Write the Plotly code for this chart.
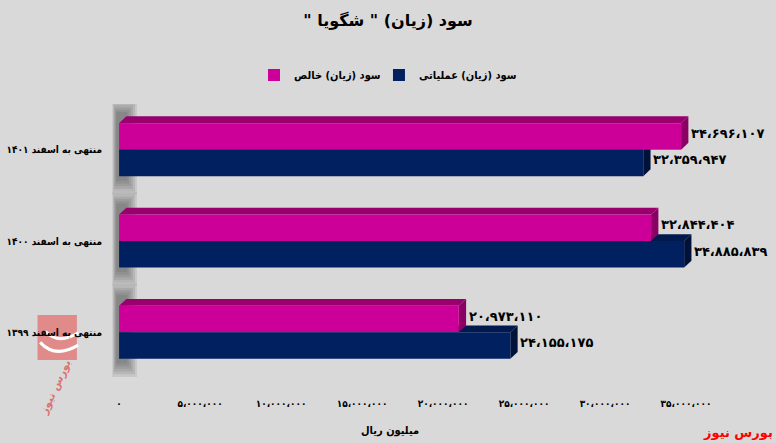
import plotly.graph_objects as go

# ---- data ----
categories = ["منتهی به اسفند ۱۴۰۱", "منتهی به اسفند ۱۴۰۰", "منتهی به اسفند ۱۳۹۹"]
net_profit = [34696107, 32844404, 20973110]        # سود (زیان) خالص
operating_profit = [32359947, 34885839, 24155175]  # سود (زیان) عملیاتی
series_names = ["سود (زیان) خالص", "سود (زیان) عملیاتی"]
tick_values = [0, 5000000, 10000000, 15000000, 20000000, 25000000, 30000000, 35000000]
title_text = 'سود (زیان) " شگویا "'
x_title = "میلیون ریال"
source_text = "بورس نیوز"

FA = str.maketrans("0123456789,", "۰۱۲۳۴۵۶۷۸۹،")
RLM = "\u200f"


def fa(n):
    return f"{n:,}".translate(FA)


PINK, PINK_TOP, PINK_SIDE = "#CC0099", "#99006E", "#8A0063"
NAVY, NAVY_TOP, NAVY_SIDE = "#002060", "#001A4D", "#00123A"
BG = "#D9D9D9"
FONT = "DejaVu Sans"
FONT_C = "DejaVu Sans Condensed, DejaVu Sans"

ypos = list(range(len(categories)))

fig = go.Figure()
fig.add_trace(go.Bar(y=ypos, x=net_profit, orientation="h", name=series_names[0],
                     marker=dict(color=PINK, line=dict(width=0)), legend="legend",
                     showlegend=True))
fig.add_trace(go.Bar(y=ypos, x=operating_profit, orientation="h", name=series_names[1],
                     marker=dict(color=NAVY, line=dict(width=0)), legend="legend2",
                     showlegend=True))

bargap = 0.42
bw = (1 - bargap) / 2
dx = 0.45e6
dy = 0.075

shapes = []
# soft wall shadows per group
for i in ypos:
    for k in range(6):
        shapes.append(dict(type="rect", xref="x", yref="y", layer="below",
                           x0=-0.42e6 + k * 0.05e6, x1=1.1e6 - k * 0.12e6,
                           y0=i - bw - dy - 0.17 + k * 0.025, y1=i + bw + 0.2 - k * 0.03,
                           fillcolor="#303030", opacity=0.1, line=dict(width=0)))

for vals, y_off, top, side in [(operating_profit, 0.0, NAVY_TOP, NAVY_SIDE),
                               (net_profit, -bw, PINK_TOP, PINK_SIDE)]:
    for i, v in enumerate(vals):
        y0 = i + y_off
        y1 = y0 + bw
        shapes.append(dict(type="path", xref="x", yref="y", layer="below",
                           path=f"M 0,{y0} L {v},{y0} L {v+dx},{y0-dy} L {dx},{y0-dy} Z",
                           fillcolor=top, line=dict(width=0)))
        shapes.append(dict(type="path", xref="x", yref="y", layer="below",
                           path=f"M {v},{y0} L {v+dx},{y0-dy} L {v+dx},{y1-dy} L {v},{y1} Z",
                           fillcolor=side, line=dict(width=0)))

# watermark logo (decorative)
shapes.append(dict(type="rect", xref="paper", yref="paper", layer="below",
                   x0=-0.112, x1=-0.052, y0=0.066, y1=0.23,
                   fillcolor="#E36F6F", opacity=0.75, line=dict(width=0)))
shapes.append(dict(type="path", xref="paper", yref="paper", layer="below",
                   path="M -0.108,0.13 Q -0.085,0.07 -0.05,0.12",
                   line=dict(color="white", width=3)))
shapes.append(dict(type="path", xref="paper", yref="paper", layer="below",
                   path="M -0.10,0.17 Q -0.08,0.12 -0.05,0.165",
                   line=dict(color="white", width=3)))

annotations = []
for vals, y_off in [(net_profit, -bw), (operating_profit, 0.0)]:
    for i, v in enumerate(vals):
        annotations.append(dict(x=v, y=i + y_off + bw / 2, xref="x", yref="y",
                                text=fa(v), showarrow=False, xanchor="left", yanchor="middle",
                                xshift=8, yshift=3,
                                font=dict(family=FONT, size=13, color="black", weight="bold")))

annotations.append(dict(text=x_title, xref="paper", yref="paper", x=0.425, y=-0.19,
                        showarrow=False, xanchor="center", yanchor="middle",
                        font=dict(family=FONT_C, size=11, color="black", weight="bold")))
annotations.append(dict(text=source_text, xref="paper", yref="paper", x=1.012, y=-0.2,
                        showarrow=False, xanchor="right", yanchor="middle",
                        font=dict(family=FONT, size=13, color="#FF0000", weight="bold")))
annotations.append(dict(text=source_text, xref="paper", yref="paper", x=-0.085, y=-0.035,
                        showarrow=False, textangle=-65, xanchor="center", yanchor="middle",
                        font=dict(family=FONT, size=11, color="rgba(220,70,70,0.7)", weight="bold")))

legend_style = dict(orientation="h", y=1.106, xanchor="left", yanchor="middle",
                    font=dict(family=FONT_C, size=11, color="black", weight="bold"),
                    bgcolor="rgba(0,0,0,0)", itemwidth=30, visible=True)

fig.update_layout(
    width=776, height=443,
    paper_bgcolor=BG, plot_bgcolor=BG,
    margin=dict(l=111, r=9, t=104, b=65),
    showlegend=True,
    barmode="group", bargap=bargap, bargroupgap=0,
    title=dict(text=RLM + title_text + RLM, x=0.5, xref="container", y=0.955, yref="container",
               xanchor="center", yanchor="middle",
               font=dict(family=FONT, size=16, color="black", weight="bold")),
    legend=dict(x=0.218, **legend_style),
    legend2=dict(x=0.4085, **legend_style),
    xaxis=dict(range=[-0.5e6, 40e6], tickvals=tick_values, automargin=False,
               ticktext=[fa(v) for v in tick_values], showgrid=False, zeroline=False,
               showline=False, ticks="", ticklabelstandoff=18,
               tickfont=dict(family=FONT_C, size=10, color="black", weight="bold")),
    yaxis=dict(tickvals=ypos, ticktext=categories, range=[len(categories) - 0.5, -0.5],
               showgrid=False, zeroline=False, showline=False, ticks="", automargin=False,
               ticklabelstandoff=8,
               tickfont=dict(family=FONT_C, size=10, color="black", weight="bold")),
    shapes=shapes, annotations=annotations,
)

fig.write_html(
    "out.html",
    config={"displayModeBar": False},
    post_script="document.documentElement.style.margin='0';document.body.style.margin='0';"
                "document.body.style.overflow='hidden';",
)
